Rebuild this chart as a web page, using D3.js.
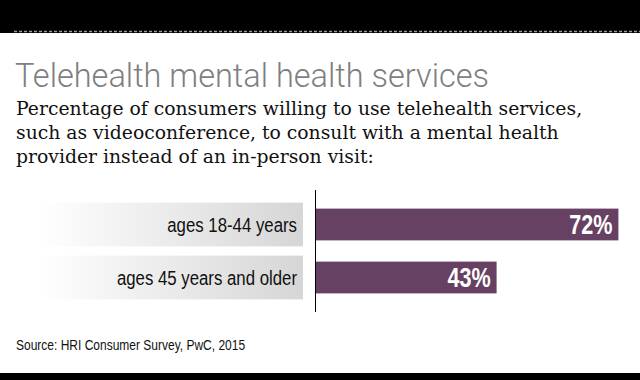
<!DOCTYPE html>
<html>
<head>
<meta charset="utf-8">
<script src="https://cdn.jsdelivr.net/npm/d3@7"></script>
<style>
  html, body { margin: 0; padding: 0; background: #fff; }
  svg { display: block; }
</style>
</head>
<body>
<svg id="chart" width="640" height="380"></svg>
<script>
const categories = ["ages 18-44 years", "ages 45 years and older"];
const values = [72, 43];
const valueLabels = ["72%", "43%"];
const titleText = "Telehealth mental health services";
const subtitleLines = [
  "Percentage of consumers willing to use telehealth services,",
  "such as videoconference, to consult with a mental health",
  "provider instead of an in-person visit:"
];
const sourceText = "Source: HRI Consumer Survey, PwC, 2015";

const W = 640, H = 380;
const svg = d3.select("#chart");
const narrow = "'Liberation Sans', Arial, sans-serif";
const squeeze = 0.8;

// top band
svg.append("rect").attr("x", 0).attr("y", 0).attr("width", W).attr("height", 33).attr("fill", "#000");
svg.append("line").attr("x1", 14).attr("x2", W).attr("y1", 31.5).attr("y2", 31.5)
  .attr("stroke", "#9a9a9a").attr("stroke-width", 1.5).attr("stroke-dasharray", "3,2");
// bottom band
svg.append("rect").attr("x", 0).attr("y", 373).attr("width", W).attr("height", 7).attr("fill", "#000");

// title
svg.append("text").attr("x", 15).attr("y", 87)
  .attr("font-family", "Roboto, 'Liberation Sans', sans-serif").attr("font-weight", 300)
  .attr("font-size", 32.5).attr("fill", "#7f7f7f").text(titleText);

// subtitle
svg.append("g").selectAll("text").data(subtitleLines).join("text")
  .attr("x", 16).attr("y", (d, i) => 115 + i * 24)
  .attr("font-family", "'DejaVu Serif', serif").attr("font-size", 18.8)
  .attr("fill", "#111").text(d => d);

// scales
const x = d3.scaleLinear().domain([0, 100]).range([316, 736]);
const y = d3.scaleBand().domain(categories).range([198, 304]).paddingInner(0.4).paddingOuter(0.2);

const defs = svg.append("defs");
const grad = defs.append("linearGradient").attr("id", "lblgrad").attr("x1", "0%").attr("x2", "100%");
grad.append("stop").attr("offset", "0%").attr("stop-color", "#ffffff");
grad.append("stop").attr("offset", "100%").attr("stop-color", "#d6d6d6");

const data = categories.map((c, i) => ({ cat: c, v: values[i], lab: valueLabels[i] }));

// label boxes
svg.append("g").selectAll("rect").data(data).join("rect")
  .attr("x", 40).attr("width", 263)
  .attr("y", d => y(d.cat) - 6).attr("height", y.bandwidth() + 12)
  .attr("fill", "url(#lblgrad)");

// category labels
svg.append("g").selectAll("text").data(data).join("text")
  .attr("transform", d => `translate(297,${y(d.cat) + y.bandwidth() / 2 + 7.5}) scale(${squeeze},1)`)
  .attr("text-anchor", "end").attr("font-family", narrow).attr("font-size", 21)
  .attr("fill", "#111").text(d => d.cat);

// bars
svg.append("g").selectAll("rect").data(data).join("rect")
  .attr("x", x(0)).attr("y", d => y(d.cat))
  .attr("width", d => x(d.v) - x(0)).attr("height", y.bandwidth())
  .attr("fill", "#664163");

// value labels
svg.append("g").selectAll("text").data(data).join("text")
  .attr("transform", d => `translate(${x(d.v) - 6},${y(d.cat) + y.bandwidth() / 2 + 9.5}) scale(${squeeze},1)`)
  .attr("text-anchor", "end").attr("font-family", narrow).attr("font-weight", "bold")
  .attr("font-size", 27).attr("fill", "#fff").text(d => d.lab);

// axis line
svg.append("line").attr("x1", 315.5).attr("x2", 315.5).attr("y1", 190).attr("y2", 312)
  .attr("stroke", "#000").attr("stroke-width", 1);

// source
svg.append("text").attr("transform", `translate(16,350) scale(${squeeze},1)`)
  .attr("font-family", narrow).attr("font-size", 15).attr("fill", "#111").text(sourceText);
</script>
</body>
</html>
